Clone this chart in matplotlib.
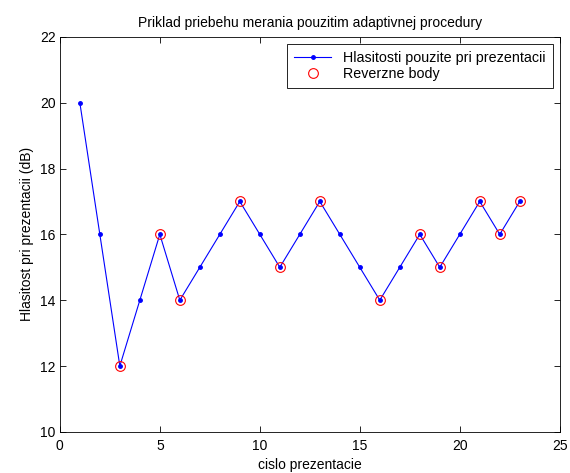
import matplotlib
matplotlib.use('Agg')
import matplotlib.pyplot as plt

plt.rcParams['font.family'] = ['Liberation Sans', 'DejaVu Sans']
plt.rcParams['font.size'] = 10

# presentation number and level (dB)
prezentacia = list(range(1, 24))
hlasitost = [20, 16, 12, 14, 16, 14, 15, 16, 17, 16, 15, 16, 17, 16, 15, 14, 15, 16, 15, 16, 17, 16, 17]

# reversal points
rev_x = [3, 5, 6, 9, 11, 13, 16, 18, 19, 21, 22, 23]
rev_y = [12, 16, 14, 17, 15, 17, 14, 16, 15, 17, 16, 17]

fig = plt.figure(figsize=(5.7, 4.73), dpi=100)
ax = fig.add_axes([0.105, 0.087, 0.877, 0.835])

ax.plot(prezentacia, hlasitost, '-', color='blue', marker='.', markersize=5,
        linewidth=0.8, label='Hlasitosti pouzite pri prezentacii')
ax.plot(rev_x, rev_y, 'o', markerfacecolor='none', markeredgecolor='red',
        markersize=7, markeredgewidth=0.8, label='Reverzne body')

ax.set_xlim(0, 25)
ax.set_ylim(10, 22)
ax.set_xticks(range(0, 26, 5))
ax.set_yticks(range(10, 23, 2))
ax.tick_params(direction='in', length=4, width=0.6, top=True, right=True, pad=3)
ax.tick_params(axis='x', pad=5)
for s in ax.spines.values():
    s.set_linewidth(0.6)

ax.set_title('Priklad priebehu merania pouzitim adaptivnej procedury', fontsize=10, pad=7)
ax.set_xlabel('cislo prezentacie', labelpad=4)
ax.set_ylabel('Hlasitost pri prezentacii (dB)', labelpad=4)

leg = ax.legend(loc='upper right', fancybox=False, edgecolor='black', framealpha=1,
                borderaxespad=0.5, handlelength=2.6, handletextpad=0.8,
                labelspacing=0.15, borderpad=0.5, fontsize=10.3)
leg.get_frame().set_linewidth(0.6)

fig.savefig('out.png', dpi=100)
